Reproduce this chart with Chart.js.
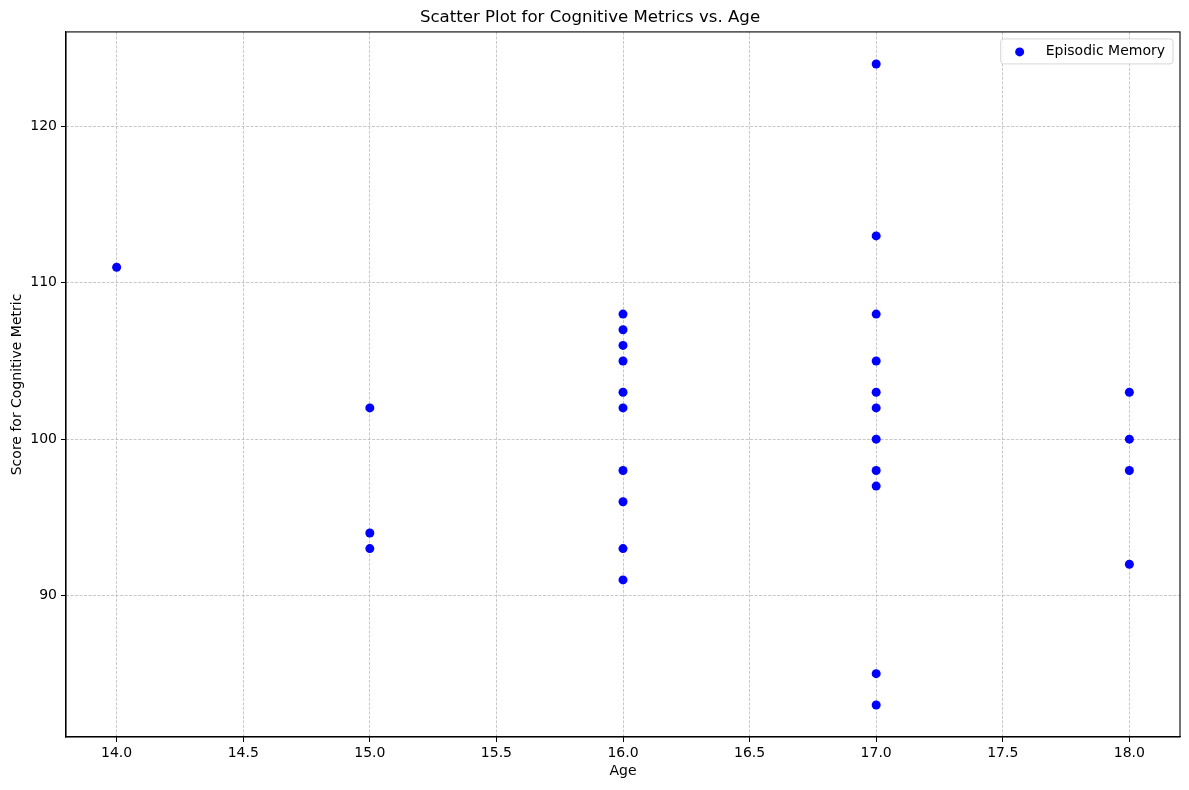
<html>
  <head>
    <title>Cognitive Metrics vs. Age</title>
    <script type="text/javascript" src="https://cdn.jsdelivr.net/npm/chart.js@4.4.1/dist/chart.umd.min.js"></script>
    <style>
      body { margin: 0; background: #fff; }
    </style>
  </head>
  <body>
    <canvas id="ScatterChart" width="1189" height="790" style="display: block;"></canvas>
    <script>
      // data
      var ages =   [14,  15,  15, 15,  16,  16,  16,  16,  16,  16, 16, 16, 16, 16,
                    17,  17,  17,  17,  17,  17,  17, 17, 17, 17, 17,
                    18,  18,  18, 18];
      var scores = [111, 102, 94, 93, 108, 107, 106, 105, 103, 102, 98, 96, 93, 91,
                    124, 113, 108, 105, 103, 102, 100, 98, 97, 85, 83,
                    103, 100, 98, 92];
      var xTicks = [14.0, 14.5, 15.0, 15.5, 16.0, 16.5, 17.0, 17.5, 18.0];
      var yTicks = [90, 100, 110, 120];
      var seriesName = 'Episodic Memory';

      var points = ages.map(function(a, i) { return {x: a, y: scores[i]}; });

      Chart.defaults.font.family = "'DejaVu Sans', sans-serif";
      Chart.defaults.font.size = 14;
      Chart.defaults.color = '#000';

      // box around the plot area + matplotlib-style legend
      var framePlugin = {
        id: 'frame',
        afterDraw: function(chart) {
          var c = chart.ctx, a = chart.chartArea;
          c.save();
          c.setLineDash([]);
          c.strokeStyle = '#000';
          c.lineWidth = 1.1;
          c.strokeRect(a.left, a.top, a.right - a.left, a.bottom - a.top);

          c.font = "14px 'DejaVu Sans', sans-serif";
          var tw = c.measureText(seriesName).width;
          var w = tw + 53, h = 25;
          var x = a.right - 7 - w, y = a.top + 7;
          c.beginPath();
          c.roundRect(x, y, w, h, 3);
          c.fillStyle = 'rgba(255,255,255,0.8)';
          c.fill();
          c.strokeStyle = '#d6d6d6';
          c.lineWidth = 1;
          c.stroke();
          c.beginPath();
          c.arc(x + 19, y + h / 2 + 0.5, 4.5, 0, Math.PI * 2);
          c.fillStyle = 'rgb(0,0,255)';
          c.fill();
          c.fillStyle = '#000';
          c.textBaseline = 'middle';
          c.fillText(seriesName, x + 45, y + h / 2);
          c.restore();
        }
      };

      var gridStyle = {
        color: '#b0b0b0',
        lineWidth: 0.7,
        tickColor: '#000',
        tickLength: 5,
        tickWidth: 1,
        tickBorderDash: []
      };
      // in v4 the grid line dash lives under border
      var borderStyle = { color: '#000', width: 1.1, dash: [3, 1.5] };

      var ctx = document.getElementById('ScatterChart').getContext('2d');
      var chart = new Chart(ctx, {
        type: 'scatter',
        data: {
          datasets: [{
            label: seriesName,
            data: points,
            backgroundColor: 'rgb(0,0,255)',
            borderColor: 'rgb(0,0,255)',
            borderWidth: 0,
            pointRadius: 4.5,
            pointHoverRadius: 4.5
          }]
        },
        options: {
          responsive: false,
          animation: false,
          layout: { padding: { left: 0, right: 9, top: 0, bottom: 0 } },
          plugins: {
            legend: { display: false },
            tooltip: { enabled: false },
            title: {
              display: true,
              text: 'Scatter Plot for Cognitive Metrics vs. Age',
              font: { size: 16.6, weight: 'normal' },
              color: '#000',
              padding: { top: 8, bottom: 4 }
            }
          },
          scales: {
            x: {
              type: 'linear',
              min: 13.8,
              max: 18.2,
              z: 1,
              grid: gridStyle,
              border: borderStyle,
              afterBuildTicks: function(s) { s.ticks = xTicks.map(function(v) { return {value: v}; }); },
              afterFit: function(s) { s.height = 53; },
              ticks: {
                padding: 3,
                maxRotation: 0,
                callback: function(v) { return Number(v).toFixed(1); }
              },
              title: { display: true, text: 'Age', padding: { top: 0, bottom: 10 } }
            },
            y: {
              type: 'linear',
              min: 80.95,
              max: 126.05,
              z: 1,
              grid: gridStyle,
              border: borderStyle,
              afterBuildTicks: function(s) { s.ticks = yTicks.map(function(v) { return {value: v}; }); },
              afterFit: function(s) { s.width = 66; },
              ticks: { padding: 4 },
              title: { display: true, text: 'Score for Cognitive Metric', padding: { top: 9, bottom: 0 } }
            }
          }
        },
        plugins: [framePlugin]
      });
    </script>
  </body>
</html>
